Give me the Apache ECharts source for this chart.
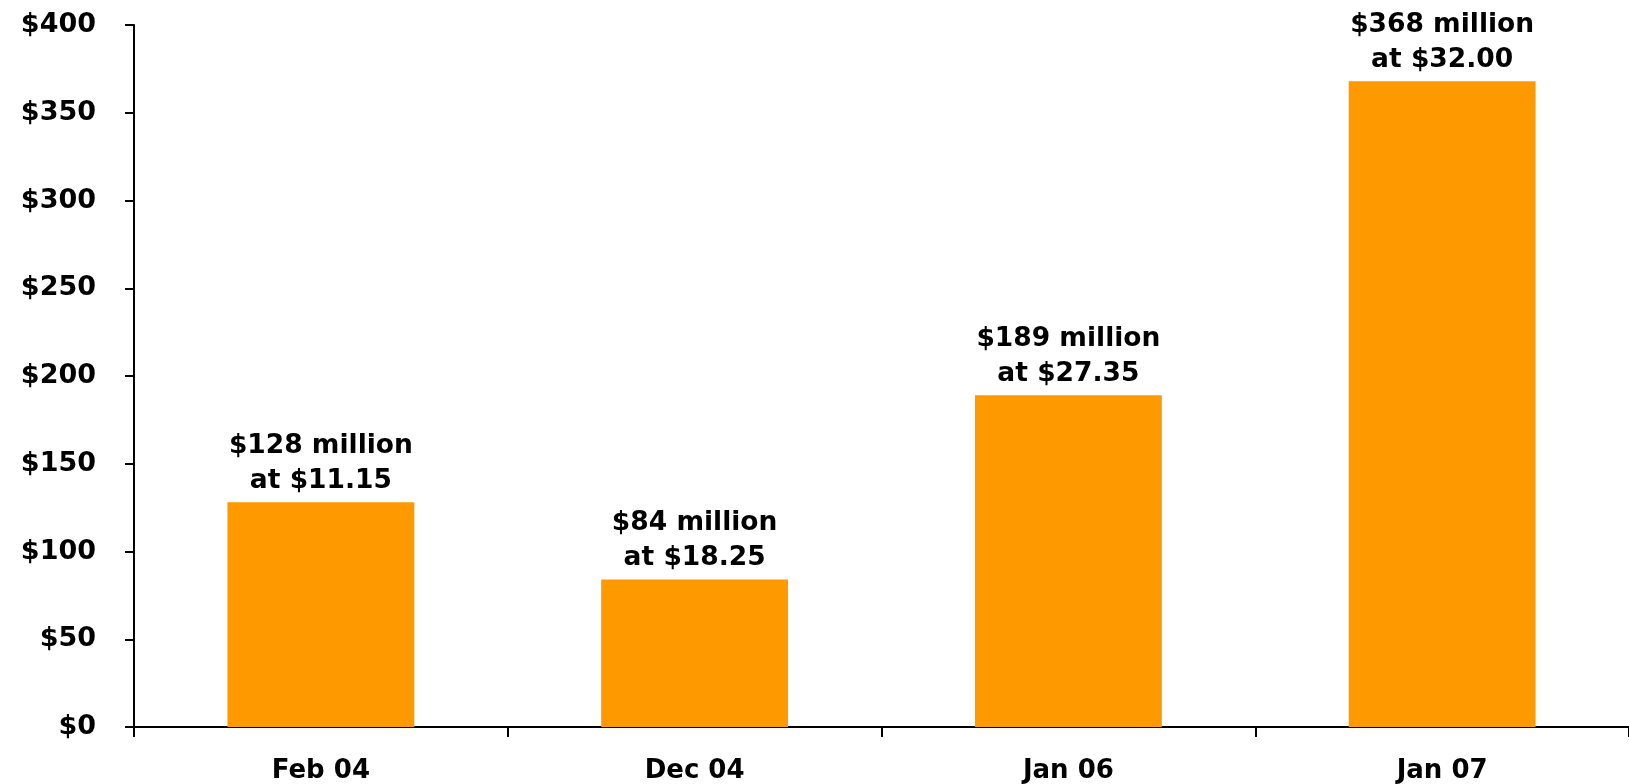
<!DOCTYPE html>
<html>
<head>
<meta charset="utf-8">
<script src="https://cdn.jsdelivr.net/npm/echarts@6/dist/echarts.min.js"></script>
<style>html,body{margin:0;padding:0;background:#fff;}#c{width:1629px;height:784px;}</style>
</head>
<body>
<div id="c"></div>
<script>
const categories = ['Feb 04', 'Dec 04', 'Jan 06', 'Jan 07'];
const values = [128, 84, 189, 368];
const prices = ['$11.15', '$18.25', '$27.35', '$32.00'];
const yTicks = [0, 50, 100, 150, 200, 250, 300, 350, 400];

const chart = echarts.init(document.getElementById('c'));
const font = 'DejaVu Sans';
chart.setOption({
  animation: false,
  grid: { left: 134, right: 0, top: 25, bottom: 56 },
  xAxis: {
    type: 'category',
    data: categories,
    axisLine: { lineStyle: { color: '#000', width: 2 } },
    axisTick: { show: true, length: 10, lineStyle: { color: '#000', width: 2 } },
    axisLabel: { margin: 31, color: '#000', fontFamily: font, fontWeight: 'bold', fontSize: 26 }
  },
  yAxis: {
    type: 'value',
    min: yTicks[0], max: yTicks[yTicks.length - 1], interval: 50,
    axisLine: { show: true, lineStyle: { color: '#000', width: 2 } },
    axisTick: { show: true, length: 9, lineStyle: { color: '#000', width: 2 } },
    splitLine: { show: false },
    axisLabel: { margin: 38, color: '#000', fontFamily: font, fontWeight: 'bold', fontSize: 27,
      padding: [8, 0, 0, 0],
      formatter: v => '$' + v }
  },
  series: [{
    type: 'bar',
    data: values,
    barWidth: '50%',
    itemStyle: { color: '#FF9900' },
    label: {
      show: true, position: 'top', distance: 4,
      color: '#000', fontFamily: font, fontWeight: 'bold', fontSize: 26.5, lineHeight: 35,
      formatter: p => '$' + p.value + ' million\nat ' + prices[p.dataIndex]
    }
  }]
});
</script>
</body>
</html>
